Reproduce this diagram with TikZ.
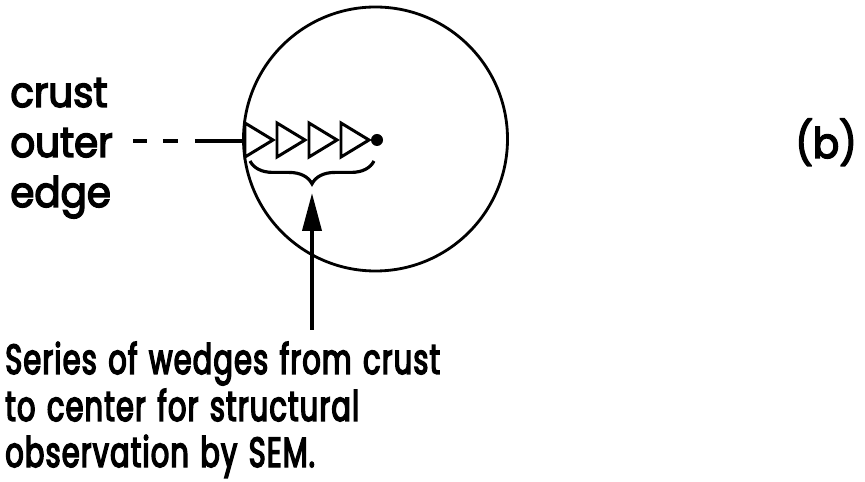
\documentclass[tikz,border=0pt]{standalone}
\usepackage{fontspec}
\setmainfont{Poppins}[FakeBold=3.5,FakeStretch=0.68,WordSpace=1.3,LetterSpace=3]
\newfontfamily\labfont{Poppins}[FakeBold=3.5,FakeStretch=0.92]
\usetikzlibrary{decorations.pathreplacing,arrows.meta}
\begin{document}
\begin{tikzpicture}[x=0.02cm,y=-0.02cm,
  lbl/.style={anchor=base west,inner sep=0pt,font=\labfont\fontsize{24}{28}\selectfont},
  captxt/.style={anchor=base west,inner sep=0pt,font=\fontsize{24}{28}\selectfont},
  wedge/.style={draw,line width=1.7pt,line join=miter},
  ln/.style={line width=2pt}]
\useasboundingbox (0,0) rectangle (865,482);
% circle
\node[draw,circle,line width=1.6pt,minimum size=264*0.02cm,inner sep=0pt] (disk) at (375.5,139) {};
% labels
\node[lbl] (crust) at (10,107) {crust};
\node[lbl] (outer) at (10,157) {outer};
\node[lbl] (edge) at (10,207) {edge};
\node[lbl] (b) at (795,158) {(b)};
% wedges
\foreach \x/\n in {245/1,277/2,309/3,341/4}{
  \draw[wedge] (\x,123) -- (\x+28,140) -- (\x,157) -- cycle;
}
\coordinate (w1) at (243,141);
\fill (377,140) circle (6);
\coordinate (dashstart) at (133,141);
\draw[ln,dash pattern=on 7.97pt off 9.1pt on 8.5pt off 9.7pt on 40pt] (dashstart) -- (w1);
% brace
\draw[line width=1.8pt,decorate,decoration={brace,mirror,amplitude=13pt}] (250,161) -- (374,161);
\coordinate (arrowtip) at (312,193);
\coordinate (arrowfoot) at (312,330);
\draw[line width=2.2pt,-{Triangle[width=19*0.02cm,length=38*0.02cm]}] (arrowfoot) -- (arrowtip);
% caption
\node[captxt] (cap1) at (5,374) {Series of wedges from crust};
\node[captxt] (cap2) at (5,421) {to center for structural};
\node[captxt] (cap3) at (5,467) {observation by SEM.};
\end{tikzpicture}
\end{document}
